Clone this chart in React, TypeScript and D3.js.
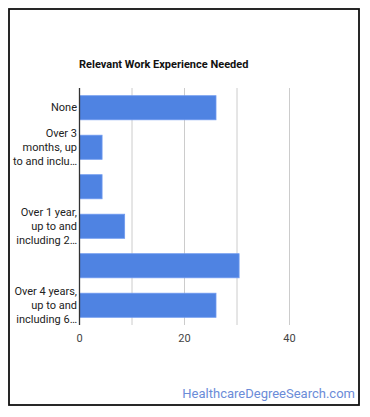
import * as d3 from "d3";

const categories: string[] = [
    "None",
    "Over 3 months, up to and including 6 months",
    "Over 6 months, up to and including 1 year",
    "Over 1 year, up to and including 2 years",
    "Over 2 years, up to and including 4 years",
    "Over 4 years, up to and including 6 years",
];

// lines shown on the axis (chart truncates / hides some)
const shownLabels: string[][] = [
    ["None"],
    ["Over 3", "months, up", "to and inclu…"],
    [],
    ["Over 1 year,", "up to and", "including 2…"],
    [],
    ["Over 4 years,", "up to and", "including 6…"],
];

const values: number[] = [26, 4.3, 4.3, 8.6, 30.4, 26];

const gridTicks: number[] = [10, 20, 30, 40];
const labelTicks: number[] = [0, 20, 40];

export default function App() {
    const width = 370;
    const height = 417;
    const plot = { left: 79.5, right: 342, top: 88, bottom: 325 };

    const x = d3.scaleLinear().domain([0, 50]).range([plot.left, plot.right]);
    const y = d3
        .scaleBand<number>()
        .domain(d3.range(categories.length))
        .range([plot.top, plot.bottom])
        .paddingInner(0.39)
        .paddingOuter(0.195);

    const font = "Roboto, Arial, sans-serif";
    const lineH = 13.8;

    return (
        <svg
            width={width}
            height={height}
            style={{ position: "absolute", left: 0, top: 0 }}
            fontFamily={font}
        >
            <rect x={0} y={0} width={width} height={height} fill="#fff" />
            <rect x={9} y={9} width={350} height={396} fill="#fff" stroke="#111" strokeWidth={1.8} />

            <text x={79} y={68} fontSize={11} fontWeight="bold" fill="#111">
                Relevant Work Experience Needed
            </text>

            {gridTicks.map((t) => (
                <line
                    key={t}
                    x1={x(t)}
                    x2={x(t)}
                    y1={plot.top}
                    y2={plot.bottom}
                    stroke="#cccccc"
                    strokeWidth={1}
                />
            ))}

            {values.map((v, i) => (
                <rect
                    key={categories[i]}
                    x={x(0)}
                    y={y(i)}
                    width={x(v) - x(0)}
                    height={y.bandwidth()}
                    fill="#4f83e2"
                    stroke="#6f9af0"
                    strokeWidth={0.8}
                />
            ))}

            <line x1={x(0)} x2={x(0)} y1={plot.top} y2={plot.bottom} stroke="#333" strokeWidth={1.3} />

            {shownLabels.map((lines, i) => {
                const cy = (y(i) ?? 0) + y.bandwidth() / 2;
                const start = cy - ((lines.length - 1) * lineH) / 2;
                return (
                    <g key={categories[i]}>
                        {lines.map((ln, j) => (
                            <text
                                key={j}
                                x={77}
                                y={start + j * lineH}
                                textAnchor="end"
                                dominantBaseline="central"
                                fontSize={11}
                                fill="#222"
                            >
                                {ln}
                            </text>
                        ))}
                    </g>
                );
            })}

            {labelTicks.map((t) => (
                <text
                    key={t}
                    x={x(t)}
                    y={338}
                    textAnchor="middle"
                    dominantBaseline="central"
                    fontSize={11}
                    fill="#444"
                >
                    {t}
                </text>
            ))}

            <text x={355} y={398} textAnchor="end" fontSize={13} fill="#6b8cd8">
                HealthcareDegreeSearch.com
            </text>
        </svg>
    );
}
